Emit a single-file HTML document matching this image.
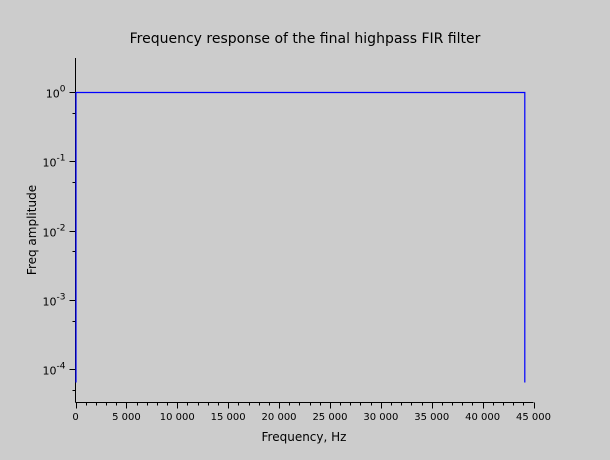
<!DOCTYPE html>
<html><head><meta charset="utf-8"><style>
html,body{margin:0;padding:0;background:#cccccc;}
svg{display:block;font-family:"DejaVu Sans","Liberation Sans",sans-serif;}
</style></head><body>
<svg id="chart" width="610" height="460">
<rect width="610" height="460" fill="#cccccc"/>
<text x="305" y="43" text-anchor="middle" font-size="14" fill="#000">Frequency response of the final highpass FIR filter</text>
<text x="304" y="441" text-anchor="middle" font-size="12" fill="#000">Frequency, Hz</text>
<text transform="translate(36,230) rotate(-90)" text-anchor="middle" font-size="12" fill="#000">Freq amplitude</text>
<g id="axes"></g>
<g id="series"></g>
</svg>
<script>
const xTicks=[0,5000,10000,15000,20000,25000,30000,35000,40000,45000];
const yDecades=[0,-1,-2,-3,-4];
const freqs=[0,0,44100,44100];
const amps=[6.6e-5,1,1,6.6e-5];
const NS='http://www.w3.org/2000/svg';
const X0=75.5,X1=533.5,Y0=402.5,LTOP=0.49,LBOT=-4.48,YT=58;
function sx(v){return X0+(v-0)/(45000)*(X1-X0);}
function sy(v){const l=Math.log10(v);return YT+(LTOP-l)/(LTOP-LBOT)*(Y0-YT);}
function mk(t,a,p){const e=document.createElementNS(NS,t);for(const k in a)e.setAttribute(k,a[k]);p.appendChild(e);return e;}
const ax=document.getElementById('axes');
const xl=mk('line',{x1:X0,y1:Y0,x2:X1,y2:Y0,stroke:'#000'},ax);


const yl=mk('line',{x1:X0,y1:YT,x2:X0,y2:Y0,stroke:'#000'},ax);


for(let f=0;f<=45000;f+=1000){const x=Math.round(sx(f))+0.5;const maj=f%5000===0;
 const tk=mk('line',{x1:x,y1:Y0,x2:x,y2:Y0+(maj?6:3),stroke:'#000'},ax);
 
 }
xTicks.forEach(v=>{const t=mk('text',{x:sx(v),y:420,'text-anchor':'middle','font-size':'10',fill:'#000'},ax);
 t.textContent=v===0?'0':v.toLocaleString('en-US').replace(',',' ');
 
 });
yDecades.forEach(d=>{const y=Math.round(sy(Math.pow(10,d)))+0.5;
 const tk=mk('line',{x1:X0-6,y1:y,x2:X0,y2:y,stroke:'#000'},ax);
 
 
 const ym=Math.round(sy(5*Math.pow(10,d-1)))+0.5;
 const mt=mk('line',{x1:X0-3,y1:ym,x2:X0,y2:ym,stroke:'#000'},ax);
 
 
 const t=mk('text',{x:X0-10,y:y+5,'text-anchor':'end','font-size':'11',fill:'#000'},ax);
 t.innerHTML='10<tspan dy="-6" font-size="9">'+d+'</tspan>';
 
 });
const ym0=Math.round(sy(5e-5))+0.5;
const mt0=mk('line',{x1:X0-3,y1:ym0,x2:X0,y2:ym0,stroke:'#000'},ax);


const pts=freqs.map((f,i)=>(sx(f)+0.5).toFixed(1)+','+(Math.round(sy(amps[i]))+0.5)).join(' ');
const pl=mk('polyline',{points:pts,fill:'none',stroke:'#0000ff','stroke-width':1.2},document.getElementById('series'));


</script>
</body></html>
